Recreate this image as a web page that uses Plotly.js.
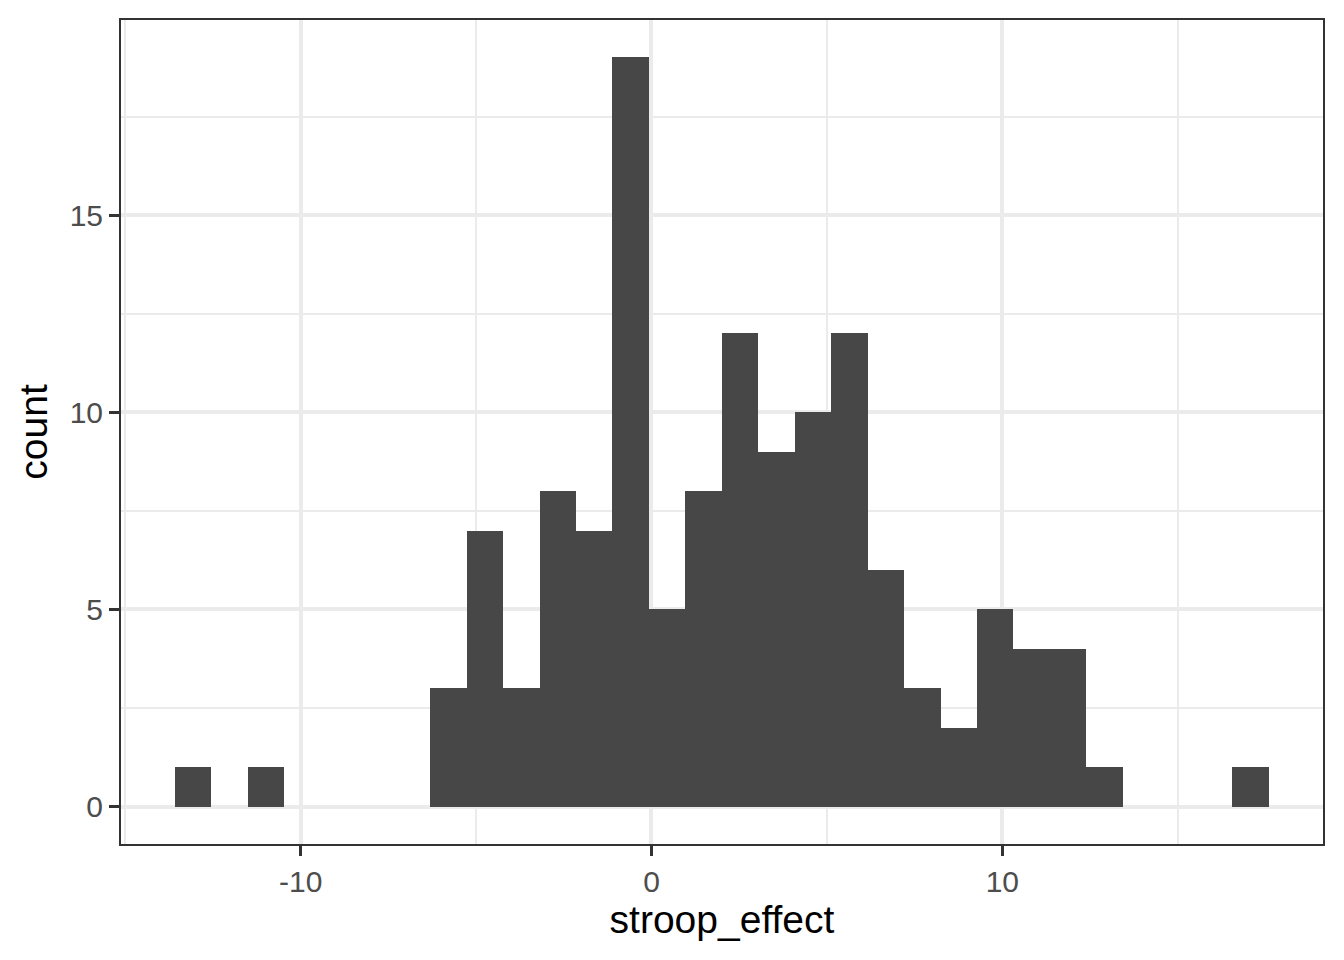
<!DOCTYPE html>
<html>
<head>
<meta charset="utf-8">
<script src="https://cdn.plot.ly/plotly-3.0.1.min.js"></script>
<style>
  html, body { margin: 0; padding: 0; background: #ffffff; }
  #chart { width: 1344px; height: 960px; }
</style>
</head>
<body>
<div id="chart"></div>
<script>
// Histogram of stroop_effect (30 bins)
const binCenters = [-13.061, -12.022, -10.983, -9.944, -8.905, -7.866, -6.827, -5.788,
  -4.749, -3.710, -2.671, -1.632, -0.593, 0.446, 1.485, 2.524, 3.563, 4.602, 5.641,
  6.680, 7.719, 8.758, 9.797, 10.836, 11.875, 12.914, 13.953, 14.992, 16.031, 17.070];
const counts = [1, 0, 1, 0, 0, 0, 0, 3, 7, 3, 8, 7, 19, 5, 8, 12, 9, 10, 12, 6,
  3, 2, 5, 4, 4, 1, 0, 0, 0, 1];
const binWidth = 1.039;
const xTickVals = [-10, 0, 10];
const xTickText = ['-10', '0', '10'];
const yTickVals = [0, 5, 10, 15];
const yTickText = ['0', '5', '10', '15'];

const font = 'Liberation Sans, Arial, Helvetica, sans-serif';

const trace = {
  type: 'bar',
  x: binCenters,
  y: counts,
  width: binCenters.map(() => binWidth),
  marker: { color: '#474747', line: { width: 0 } },
  hoverinfo: 'x+y'
};

const layout = {
  width: 1344,
  height: 960,
  paper_bgcolor: '#ffffff',
  plot_bgcolor: '#ffffff',
  margin: { l: 121, r: 21, t: 20, b: 116, pad: 0 },
  showlegend: false,
  bargap: 0,
  font: { family: font, color: '#4d4d4d' },
  xaxis: {
    range: [-15.12, 19.14],
    tickmode: 'array',
    tickvals: xTickVals,
    ticktext: xTickText,
    ticks: 'outside',
    ticklen: 10,
    tickwidth: 2.7,
    tickcolor: '#333333',
    tickfont: { family: font, size: 30, color: '#4d4d4d' },
    showgrid: true,
    gridcolor: '#ebebeb',
    gridwidth: 4,
    minor: { tickmode: 'array', tickvals: [-15, -5, 5, 15], showgrid: true, gridcolor: '#ebebeb', gridwidth: 2, ticks: '' },
    zeroline: false,
    showline: true,
    mirror: true,
    linecolor: '#333333',
    linewidth: 2,
    title: { text: 'stroop_effect', font: { family: font, size: 39, color: '#000000' }, standoff: 8 }
  },
  yaxis: {
    range: [-0.95, 19.95],
    tickmode: 'array',
    tickvals: yTickVals,
    ticktext: yTickText,
    ticks: 'outside',
    ticklen: 10,
    tickwidth: 2.7,
    tickcolor: '#333333',
    tickfont: { family: font, size: 30, color: '#4d4d4d' },
    showgrid: true,
    gridcolor: '#ebebeb',
    gridwidth: 4,
    minor: { tickmode: 'array', tickvals: [2.5, 7.5, 12.5, 17.5], showgrid: true, gridcolor: '#ebebeb', gridwidth: 2, ticks: '' },
    zeroline: false,
    showline: true,
    mirror: true,
    linecolor: '#333333',
    linewidth: 2,
    title: { text: 'count', font: { family: font, size: 39, color: '#000000' }, standoff: 10 }
  }
};

Plotly.newPlot('chart', [trace], layout, { displayModeBar: false, staticPlot: true });
</script>
</body>
</html>
